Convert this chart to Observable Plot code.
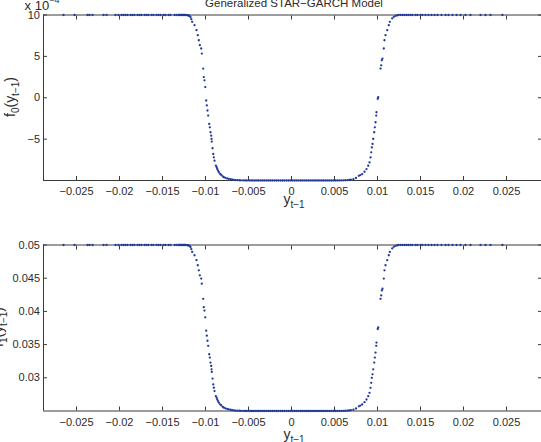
<!DOCTYPE html>
<html>
<head>
<meta charset="utf-8">
<script src="https://cdn.jsdelivr.net/npm/d3@7"></script>
<script src="https://cdn.jsdelivr.net/npm/@observablehq/plot@0.6"></script>
<style>
  html, body { margin: 0; padding: 0; background: #fff; }
  #chart { width: 541px; height: 442px; position: relative; overflow: hidden; }
  #chart svg { display: block; overflow: visible; }
</style>
</head>
<body>
<div id="chart"></div>
<script>
// ---- data ----
// lagged return y_{t-1}
const yLag = [
  // left plateau
  -0.02651,-0.02523,-0.02372,-0.02349,-0.02314,-0.02186,-0.02151,-0.02047,-0.02012,-0.01977,
  -0.01953,-0.01930,-0.01907,-0.01872,-0.01849,-0.01826,-0.01791,-0.01767,-0.01744,-0.01709,
  -0.01686,-0.01663,-0.01628,-0.01605,-0.01570,-0.01547,-0.01523,-0.01488,-0.01465,-0.01430,
  -0.01407,-0.01360,-0.01337,-0.01314,-0.01302,-0.01291,-0.01279,-0.01267,-0.01256,-0.01244,
  -0.01233,-0.01221,-0.01209,-0.01198,-0.01186,-0.01174,-0.01165,
  // left transition
  -0.01155,-0.01128,-0.01105,-0.01090,-0.01078,-0.01066,-0.01050,-0.01043,-0.01027,-0.01020,
  -0.01012,-0.01003,-0.00992,-0.00985,-0.00977,-0.00969,-0.00957,-0.00950,-0.00942,-0.00934,
  -0.00930,-0.00927,-0.00918,-0.00910,-0.00903,-0.00895,-0.00880,-0.00870,-0.00864,-0.00855,
  -0.00845,-0.00830,-0.00817,-0.00800,-0.00787,-0.00770,-0.00748,-0.00730,-0.00709,-0.00690,
  -0.00670,
  // central floor
  -0.00652,-0.00631,-0.00607,-0.00588,-0.00561,-0.00540,-0.00519,-0.00493,-0.00470,-0.00448,
  -0.00425,-0.00401,-0.00380,-0.00356,-0.00333,-0.00311,-0.00287,-0.00264,-0.00242,-0.00219,
  -0.00196,-0.00173,-0.00151,-0.00127,-0.00104,-0.00082,-0.00058,-0.00036,-0.00013,0.00010,
  0.00033,0.00055,0.00078,0.00102,0.00124,0.00147,0.00170,0.00193,0.00216,0.00239,
  0.00262,0.00284,0.00308,0.00331,0.00354,0.00376,0.00399,0.00422,0.00445,0.00468,
  0.00491,0.00514,0.00537,0.00560,0.00583,0.00606,0.00628,0.00652,0.00671,
  // right transition
  0.00690,0.00720,0.00750,0.00783,0.00800,0.00822,0.00849,0.00872,0.00892,0.00907,
  0.00919,0.00927,0.00934,0.00942,0.00950,0.00962,0.00969,0.00977,0.00985,0.00988,
  0.01003,0.01008,0.01035,0.01043,0.01050,0.01058,0.01073,0.01081,0.01093,0.01113,
  0.01131,0.01143,0.01171,0.01190,0.01210,0.01229,
  // right plateau
  0.01244,0.01267,0.01291,0.01314,0.01337,0.01360,0.01384,0.01407,0.01442,0.01465,
  0.01500,0.01523,0.01558,0.01593,0.01628,0.01663,0.01698,0.01744,0.01791,0.01826,
  0.01872,0.01919,0.01965,0.02023,0.02081,0.02198,0.02256,0.02314,0.02453
];

// f0(y_{t-1}) in units of 10^-4
const f0 = [
  10,10,10,10,10,10,10,10,10,10,
  10,10,10,10,10,10,10,10,10,10,
  10,10,10,10,10,10,10,10,10,10,
  10,10,10,10,10,10,10,10,10,10,
  10,9.99,9.97,9.94,9.88,9.75,9.50,
  9.17,8.77,8.17,7.56,6.95,6.35,5.95,5.34,3.52,2.50,
  2.10,1.29,-0.33,-0.93,-1.54,-2.15,-3.16,-3.57,-4.17,-4.58,
  -4.98,-5.30,-6.10,-6.80,-7.20,-7.60,-8.20,-8.40,-8.60,-8.80,
  -9.00,-9.20,-9.33,-9.50,-9.60,-9.68,-9.75,-9.80,-9.85,-9.90,
  -9.93,
  -9.95,-9.96,-9.97,-9.98,-9.99,-9.99,-10,-10,-10,-10,
  -10,-10,-10,-10,-10,-10,-10,-10,-10,-10,
  -10,-10,-10,-10,-10,-10,-10,-10,-10,-10,
  -10,-10,-10,-10,-10,-10,-10,-10,-10,-10,
  -10,-10,-10,-10,-10,-10,-10,-10,-10,-10,
  -10,-10,-10,-9.99,-9.99,-9.98,-9.97,-9.96,-9.94,
  -9.90,-9.85,-9.70,-9.43,-9.35,-9.22,-8.94,-8.62,-8.22,-7.82,
  -7.21,-6.60,-6.00,-5.58,-4.98,-4.17,-3.57,-2.96,-2.15,-1.75,
  -0.12,0.07,3.52,3.92,4.53,4.73,5.95,6.95,7.56,8.17,
  8.77,9.17,9.59,9.78,9.90,9.95,
  10,10,10,10,10,10,10,10,10,10,
  10,10,10,10,10,10,10,10,10,10,
  10,10,10,10,10,10,10,10,10
];

// f1(y_{t-1})
const f1 = [
  0.05,0.05,0.05,0.05,0.05,0.05,0.05,0.05,0.05,0.05,
  0.05,0.05,0.05,0.05,0.05,0.05,0.05,0.05,0.05,0.05,
  0.05,0.05,0.05,0.05,0.05,0.05,0.05,0.05,0.05,0.05,
  0.05,0.05,0.05,0.05,0.05,0.05,0.05,0.05,0.05,0.05,
  0.05,0.04999,0.04996,0.04993,0.04985,0.04969,0.04938,
  0.04896,0.04846,0.04771,0.04695,0.04619,0.04544,0.04494,0.04418,0.04190,0.04063,
  0.04013,0.03911,0.03709,0.03634,0.03558,0.03481,0.03355,0.03304,0.03229,0.03178,
  0.03128,0.03088,0.02988,0.02900,0.02850,0.02800,0.02725,0.02700,0.02675,0.02650,
  0.02625,0.02600,0.02584,0.02563,0.02550,0.02540,0.02531,0.02525,0.02519,0.02513,
  0.02509,
  0.02506,0.02505,0.02504,0.02503,0.02501,0.02501,0.025,0.025,0.025,0.025,
  0.025,0.025,0.025,0.025,0.025,0.025,0.025,0.025,0.025,0.025,
  0.025,0.025,0.025,0.025,0.025,0.025,0.025,0.025,0.025,0.025,
  0.025,0.025,0.025,0.025,0.025,0.025,0.025,0.025,0.025,0.025,
  0.025,0.025,0.025,0.025,0.025,0.025,0.025,0.025,0.025,0.025,
  0.025,0.025,0.025,0.02501,0.02501,0.02503,0.02504,0.02505,0.02508,
  0.02513,0.02519,0.02538,0.02571,0.02581,0.02598,0.02633,0.02673,0.02723,0.02773,
  0.02849,0.02925,0.03000,0.03053,0.03128,0.03229,0.03304,0.03380,0.03481,0.03531,
  0.03735,0.03759,0.04190,0.04240,0.04316,0.04341,0.04494,0.04619,0.04695,0.04771,
  0.04846,0.04896,0.04949,0.04973,0.04988,0.04994,
  0.05,0.05,0.05,0.05,0.05,0.05,0.05,0.05,0.05,0.05,
  0.05,0.05,0.05,0.05,0.05,0.05,0.05,0.05,0.05,0.05,
  0.05,0.05,0.05,0.05,0.05,0.05,0.05,0.05,0.05
];

const xTicks = [-0.025,-0.02,-0.015,-0.01,-0.005,0,0.005,0.01,0.015,0.02,0.025];
const xTickLabels = ["−0.025","−0.02","−0.015","−0.01","−0.005","0","0.005","0.01","0.015","0.02","0.025"];
const f0Ticks = [-5,0,5,10];
const f0TickLabels = ["−5","0","5","10"];
const f1Ticks = [0.03,0.035,0.04,0.045,0.05];
const f1TickLabels = ["0.03","0.035","0.04","0.045","0.05"];

const titleText = "Generalized STAR−GARCH Model";

// ---- drawing ----
const FONT = "'Liberation Sans', Arial, Helvetica, sans-serif";
const AXIS = "#3a3a3a";
const TEXT = "#2b2b2b";
const DOT = "#1f3a9a";
const X_DOMAIN = [-0.02884, 0.02907];

function panel({height, marginTop, marginBottom, yDomain, yValues, yTicks, yTickLabels}) {
  const pts = yLag.map((x, i) => ({x, y: yValues[i]}));
  return Plot.plot({
    width: 541,
    height,
    marginLeft: 43,
    marginRight: 0,
    marginTop,
    marginBottom,
    style: {fontFamily: FONT, fontSize: "11px", color: TEXT, background: "transparent", overflow: "visible"},
    x: {domain: X_DOMAIN},
    y: {domain: yDomain},
    marks: [
      // box lines (left, bottom, top)
      Plot.ruleY(yDomain, {stroke: AXIS, strokeWidth: 1}),
      Plot.ruleX([X_DOMAIN[0]], {stroke: AXIS, strokeWidth: 1}),
      // inward ticks
      Plot.axisX(xTicks, {anchor: "bottom", tickSize: 4, dy: -4, tickFormat: () => "", stroke: AXIS, label: null}),
      Plot.axisX(xTicks, {anchor: "top", tickSize: 4, dy: 4, tickFormat: () => "", stroke: AXIS, label: null}),
      Plot.axisY(yTicks, {anchor: "left", tickSize: 4, dx: 4, tickFormat: () => "", stroke: AXIS, label: null}),
      Plot.axisY(yTicks, {anchor: "right", tickSize: 4, dx: -4, tickFormat: () => "", stroke: AXIS, label: null}),
      // tick labels
      Plot.axisX(xTicks, {anchor: "bottom", tickSize: 0, tickPadding: 7,
        tickFormat: d => xTickLabels[xTicks.indexOf(d)], fill: TEXT, label: null}),
      Plot.axisY(yTicks, {anchor: "left", tickSize: 0, tickPadding: 3.5,
        tickFormat: d => yTickLabels[yTicks.indexOf(d)], fill: TEXT, label: null}),
      Plot.dot(pts, {x: "x", y: "y", r: 1.15, fill: DOT, stroke: null})
    ]
  });
}

const topPanel = panel({height: 220, marginTop: 14.5, marginBottom: 40, yDomain: [-10, 10], yValues: f0, yTicks: f0Ticks, yTickLabels: f0TickLabels});
const bottomPanel = panel({height: 222, marginTop: 24.5, marginBottom: 31.5, yDomain: [0.025, 0.05], yValues: f1, yTicks: f1Ticks, yTickLabels: f1TickLabels});

const chartDiv = document.getElementById("chart");
chartDiv.append(topPanel, bottomPanel);

function subLabel(svg, {x, y, rotate, parts, size = 14, subSize = 10, anchor = "middle"}) {
  const t = d3.select(svg).append("text")
    .attr("transform", `translate(${x},${y})` + (rotate ? ` rotate(${rotate})` : ""))
    .attr("text-anchor", anchor)
    .attr("font-family", FONT)
    .attr("font-size", size)
    .attr("fill", TEXT);
  let shifted = false;
  parts.forEach(([s, sub]) => {
    const sp = t.append("tspan").text(s);
    if (sub && !shifted) { sp.attr("dy", 4).attr("font-size", subSize); shifted = true; }
    else if (!sub && shifted) { sp.attr("dy", -4); shifted = false; }
  });
  return t;
}

// top panel labels
subLabel(topPanel, {x: 15, y: 97, rotate: -90, parts: [["f"], ["0", true], ["(y"], ["t−1", true], [")"]]});
subLabel(topPanel, {x: 294, y: 203.5, parts: [["y"], ["t−1", true]]});
d3.select(topPanel).append("text")
  .attr("x", 294).attr("y", 6.5).attr("text-anchor", "middle")
  .attr("font-family", FONT).attr("font-size", 11.5).attr("fill", TEXT)
  .text(titleText);
const ex = d3.select(topPanel).append("text")
  .attr("x", 42).attr("y", 10)
  .attr("font-family", FONT).attr("font-size", 13).attr("fill", TEXT);
ex.append("tspan").text("x 10");
ex.append("tspan").attr("dy", -7).attr("font-size", 9).text("−4");

// bottom panel labels
subLabel(bottomPanel, {x: 3, y: 107, rotate: -90, parts: [["f"], ["1", true], ["(y"], ["t−1", true], [")"]]});
subLabel(bottomPanel, {x: 294, y: 219, parts: [["y"], ["t−1", true]]});
</script>
</body>
</html>
